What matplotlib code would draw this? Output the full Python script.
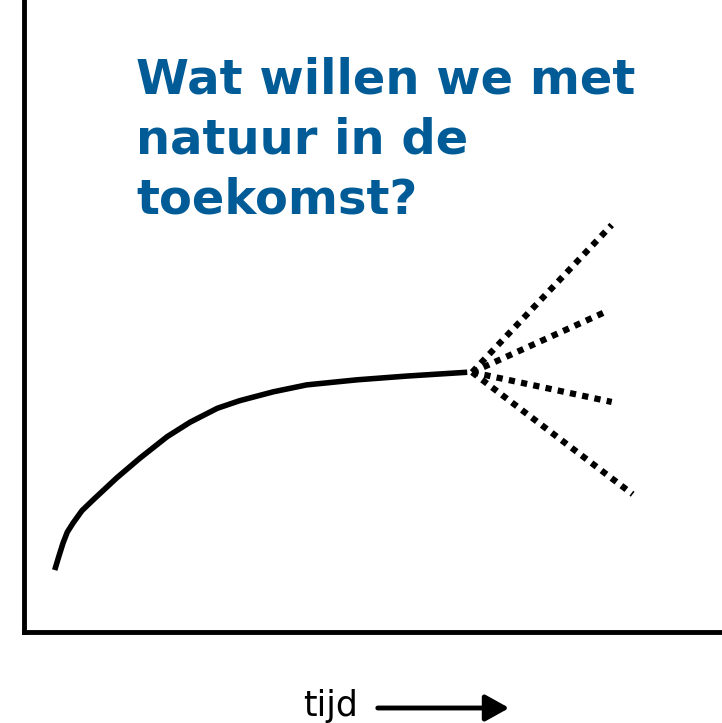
import matplotlib
matplotlib.use("Agg")
import matplotlib.pyplot as plt
from matplotlib.patches import FancyArrowPatch

# history curve (arbitrary units, time on x)
hist_t = [4.4, 5.0, 5.6, 6.2, 7.0, 8.3, 9.9, 13.3, 16.6, 20.5, 23.8, 27.7, 30.9, 35.7, 40.5, 47.7, 54.9, 63.5]
hist_v = [9.8, 12.0, 14.1, 15.8, 17.2, 19.2, 20.9, 24.4, 27.5, 30.9, 33.2, 35.4, 36.6, 38.0, 39.1, 39.9, 40.5, 41.1]

# future scenarios: branch start and end points
branch_t0, branch_v0 = 64.2, 41.1
scen_t = [84.2, 83.0, 84.2, 87.2]
scen_v = [64.4, 50.5, 36.4, 21.8]

title = "Wat willen we met\nnatuur in de\ntoekomst?"
xlabel = "tijd"

fig = plt.figure(figsize=(7.22, 7.23), dpi=100)
ax = fig.add_axes([24 / 722, 91 / 723, 698 / 722, 632 / 723])
ax.set_xlim(0, 100)
ax.set_ylim(0, 100)
for s in ["top", "right"]:
    ax.spines[s].set_visible(False)
for s in ["left", "bottom"]:
    ax.spines[s].set_linewidth(3.5)
    ax.spines[s].set_capstyle("projecting")
ax.set_xticks([])
ax.set_yticks([])

ax.plot(hist_t, hist_v, color="black", lw=4, solid_capstyle="butt",
        solid_joinstyle="round")
for t, v in zip(scen_t, scen_v):
    ax.plot([branch_t0, t], [branch_v0, v], color="black", lw=4.5,
            linestyle=(0, (1, 1)))

fig.text(136 / 722, 1 - 57 / 723, title, color="#005b96", fontsize=34.6,
         fontweight="bold", ha="left", va="top", linespacing=1.34,
         family="DejaVu Sans")

fig.text(331 / 722, 1 - 716 / 723, xlabel, fontsize=25, ha="center",
         va="baseline")
fig.add_artist(FancyArrowPatch(
    (375 / 722, 1 - 708 / 723), (512 / 722, 1 - 708 / 723),
    transform=fig.transFigure, arrowstyle="-|>,head_length=0.9,head_width=0.5",
    mutation_scale=16, lw=3.5, color="black"))

fig.savefig("out.png", dpi=100)
